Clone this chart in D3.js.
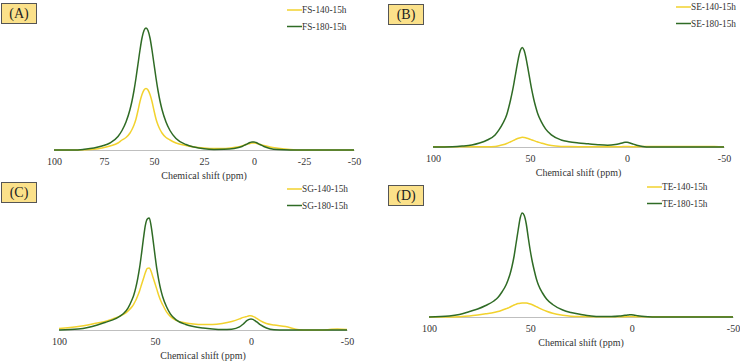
<!DOCTYPE html>
<html>
<head>
<meta charset="utf-8">
<script src="https://cdn.jsdelivr.net/npm/d3@7"></script>
<style>
  body { margin:0; background:#fff; }
  svg { display:block; font-family:"Liberation Serif","Times New Roman",serif; }
</style>
</head>
<body>
<div id="chart"></div>
<script>
// chemical shift grid (ppm) shared by every trace
const ppm = [100, 90, 85, 80, 76, 72, 68, 66, 64, 62, 61, 60, 59, 58, 57, 56, 55, 54, 53, 52, 51, 50, 49, 48, 47, 46, 44, 42, 39, 34, 30, 25, 20, 15, 10, 6, 4, 2, 1, 0, -1, -3, -5, -8, -12, -18, -25, -30, -35, -40, -45, -50];

// intensities (arbitrary units)
const fs140 = [0, 0, 0.2, 0.8, 2, 4, 7, 10, 12.5, 17, 20.5, 25, 31, 39.5, 48.5, 55.5, 60, 61.5, 60, 55.5, 48.5, 39.5, 31, 25, 20.5, 17, 12.5, 10, 7, 4.5, 3, 2, 1.5, 1.5, 2.5, 4, 5.5, 6.5, 7, 7, 6.8, 5.5, 4.5, 3, 1.8, 0.5, 0, 0, 0, 0, 0, 0];
const fs180 = [0, 0, 0.7, 2, 4, 7, 13.5, 19.5, 28, 40.5, 49, 59.5, 72, 86, 100, 112, 119.5, 122, 119.5, 112, 100, 86, 72, 59.5, 49, 40.5, 28, 19.5, 11.5, 5.5, 3, 1.2, 0.6, 0.7, 1.5, 3.5, 5.5, 7.5, 8, 8, 7.5, 5.5, 3.5, 1.5, 0.4, 0, 0, 0, 0, 0, 0, 0];

const se140 = [0.3, 0.3, 0.3, 0.3, 0.3, 0.3, 0.6, 1.2, 2.2, 3.5, 4.3, 5.2, 6.1, 7, 7.9, 8.7, 9.3, 9.6, 9.5, 9, 8.4, 7.7, 7, 6.3, 5.6, 5, 3.8, 2.7, 1.5, 0.6, 0.4, 0.3, 0.3, 0.3, 0.3, 0.3, 0.3, 0.4, 0.4, 0.4, 0.4, 0.3, 0.3, 0.4, 0.5, 0.5, 0.5, 0.5, 0.5, 0.5, 0.4, 0.3];
const se180 = [0, 0.3, 0.9, 2, 4, 7, 12, 17, 23.5, 32, 39, 47, 56, 66.5, 77.5, 88, 96, 99, 96, 88, 77.5, 66.5, 56, 47, 39.5, 33, 24.5, 18, 12, 7, 5.2, 4, 3.2, 2.3, 1.8, 2.5, 3.3, 4.3, 4.7, 4.7, 4.3, 3, 1.8, 0.5, 0, 0, 0, 0, 0, 0, 0, 0];

const sg140 = [1.5, 3.5, 5, 7, 8.5, 11, 14, 16, 19, 23, 26, 29.5, 34, 39, 45, 51, 57, 61, 61.5, 58, 52, 46, 40, 34, 29, 25, 18, 13.5, 9.5, 7, 6, 5.5, 5.5, 6.5, 8.5, 11, 12.5, 13.5, 14, 14, 13.5, 11.5, 9, 6.5, 5, 3.5, 0.3, 0, 0, 0.3, 1, 0.5];
const sg180 = [0, 1, 2.5, 5, 7.5, 10, 14, 17, 22, 30, 35, 42, 51, 62, 76, 91, 104, 110, 111, 103, 89, 74, 60, 49, 40, 33, 23, 16, 10, 5.5, 3.5, 2, 1, 0.5, 0.8, 3, 6, 9.5, 10.5, 11, 10.5, 8, 5, 2, 0.3, 0, 0, 0, 0, 0, 0, 0];

const te140 = [0, 0, 0.3, 1, 2, 3.2, 4.5, 5.5, 6.8, 8.2, 9, 10, 11, 12, 12.8, 13.4, 13.8, 14, 14, 14, 13.6, 13, 12.2, 11.3, 10.3, 9.3, 7.4, 5.8, 3.8, 1.8, 0.8, 0.4, 0.3, 0.3, 0.3, 0.3, 0.3, 0.4, 0.4, 0.4, 0.4, 0.3, 0.3, 0.3, 0.3, 0.3, 0.3, 0.3, 0.3, 0.3, 0.3, 0.3];
const te180 = [0, 1, 2.5, 5.5, 8, 11.5, 16, 19.5, 25, 32, 37, 43, 51, 61, 74, 87, 99, 104, 101.5, 93, 79, 66, 55, 46, 38, 32, 24, 18, 12.5, 7, 4.5, 2.5, 1, 0.5, 0.5, 1, 1.5, 2, 2.2, 2.2, 2, 1.3, 0.8, 0.3, 0, 0, 0, 0, 0, 0, 0, 0];

const panelLabels = ['(A)', '(B)', '(C)', '(D)'];
const seriesNames = [['FS-140-15h', 'FS-180-15h'], ['SE-140-15h', 'SE-180-15h'], ['SG-140-15h', 'SG-180-15h'], ['TE-140-15h', 'TE-180-15h']];
const seriesData = [[fs140, fs180], [se140, se180], [sg140, sg180], [te140, te180]];
const tickSets = [[100, 75, 50, 25, 0, -25, -50], [100, 50, 0, -50], [100, 50, 0, -50], [100, 50, 0, -50]];
const axisTitle = 'Chemical shift (ppm)';

const colors = ['#f2d22e', '#2f6b25'];

// layout per panel: plot extent, baseline, label box, legend
const layout = [
  { x0: 54, x1: 354, base: 150, top: 28, ymax: 122, box: [1, 3], leg: [287, 10] },
  { x0: 433, x1: 724, base: 147, top: 47.5, ymax: 99, box: [388, 4], leg: [676, 7] },
  { x0: 59, x1: 347, base: 330, top: 218, ymax: 111, box: [1, 182], leg: [287, 189] },
  { x0: 429, x1: 733, base: 317, top: 213, ymax: 104, box: [388, 185], leg: [647, 187] }
];

const svg = d3.select('#chart').append('svg')
  .attr('width', 740).attr('height', 361);

layout.forEach((L, i) => {
  const g = svg.append('g');
  const x = d3.scaleLinear().domain([100, -50]).range([L.x0, L.x1]);
  const y = d3.scaleLinear().domain([0, L.ymax]).range([L.base, L.top]);

  // axis
  const ax = g.append('g')
    .attr('transform', `translate(0,${L.base})`)
    .call(d3.axisBottom(x).tickValues(tickSets[i]).tickSize(0).tickPadding(8).tickFormat(d => String(d)));
  ax.select('.domain').attr('stroke', '#bfbfbf').attr('stroke-width', 1);
  ax.selectAll('text').attr('font-size', 10).attr('fill', '#333')
    .attr('font-family', '"Liberation Serif", serif');

  g.append('text')
    .attr('x', (L.x0 + L.x1) / 2).attr('y', L.base + 29)
    .attr('text-anchor', 'middle').attr('font-size', 10).attr('fill', '#333')
    .text(axisTitle);

  const line = d3.line()
    .x((d, j) => x(ppm[j]))
    .y(d => y(d))
    .curve(d3.curveMonotoneX);

  seriesData[i].forEach((s, k) => {
    g.append('path')
      .datum(s)
      .attr('d', line)
      .attr('fill', 'none')
      .attr('stroke', colors[k])
      .attr('stroke-width', 1.5);
  });

  // panel label box
  g.append('rect')
    .attr('x', L.box[0] + 0.5).attr('y', L.box[1] + 0.5)
    .attr('width', 35).attr('height', 20)
    .attr('fill', '#fbe18a').attr('stroke', '#555').attr('stroke-width', 1);
  g.append('text')
    .attr('x', L.box[0] + 18).attr('y', L.box[1] + 15)
    .attr('text-anchor', 'middle').attr('font-size', 14).attr('fill', '#222')
    .text(panelLabels[i]);

  // legend
  seriesNames[i].forEach((name, k) => {
    const ly = L.leg[1] + k * 16.5;
    g.append('line')
      .attr('x1', L.leg[0]).attr('x2', L.leg[0] + 15)
      .attr('y1', ly).attr('y2', ly)
      .attr('stroke', colors[k]).attr('stroke-width', 1.5);
    g.append('text')
      .attr('x', L.leg[0] + 15).attr('y', ly + 3.2)
      .attr('font-size', 9.3).attr('fill', '#333')
      .text(name);
  });
});
</script>
</body>
</html>
